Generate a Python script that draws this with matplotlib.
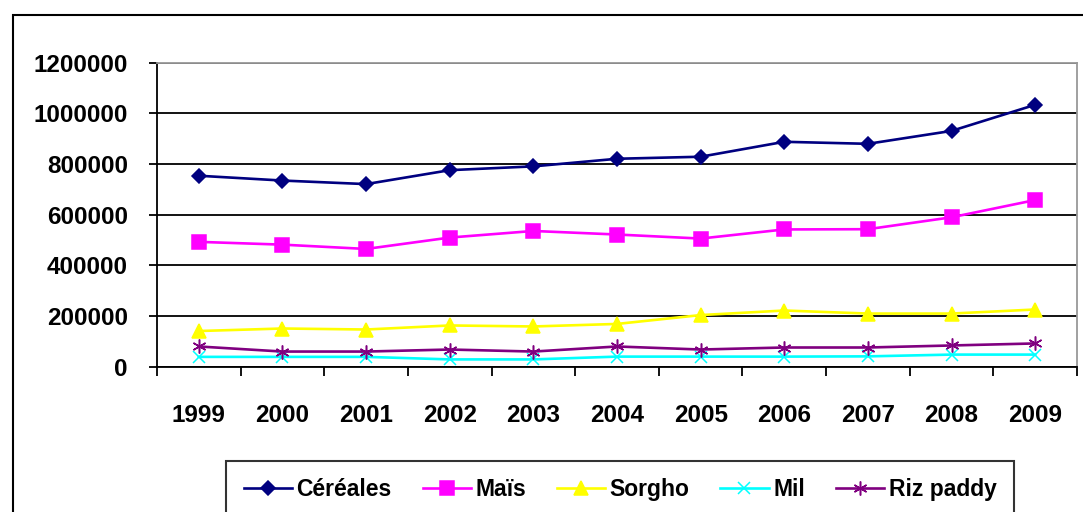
import matplotlib
import matplotlib.pyplot as plt
from matplotlib.patches import Rectangle

matplotlib.use("Agg")

plt.rcParams["font.family"] = ["Liberation Sans", "DejaVu Sans"]

years = ["1999", "2000", "2001", "2002", "2003", "2004", "2005", "2006", "2007", "2008", "2009"]
cereales = [753000, 734000, 720000, 775000, 790000, 820000, 828000, 887000, 879000, 930000, 1033000]
mais = [492000, 481000, 464000, 509000, 535000, 521000, 505000, 541000, 542000, 589000, 657000]
sorgho = [140000, 150000, 146000, 162000, 158000, 168000, 203000, 221000, 209000, 209000, 225000]
mil = [38000, 38000, 38000, 28000, 28000, 39000, 39000, 39000, 40000, 47000, 47000]
riz = [79000, 59000, 59000, 67000, 59000, 79000, 67000, 75000, 75000, 83000, 91000]

series = [
    ("Céréales", cereales, "#000080", "D", 7),
    ("Maïs", mais, "#FF00FF", "s", 10),
    ("Sorgho", sorgho, "#FFFF00", "^", 10),
    ("Mil", mil, "#00FFFF", "x", 8),
    ("Riz paddy", riz, "#800080", (6, 2, 0), 10),
]

fig = plt.figure(figsize=(10.83, 5.12), dpi=100)
ax = fig.add_axes([157 / 1083, 1 - 366.5 / 512, (1077 - 157) / 1083, (366.5 - 62.5) / 512])

x = list(range(len(years)))
for name, vals, color, marker, ms in series:
    ax.plot(x, vals, color=color, lw=1.9, marker=marker, markersize=ms,
            markeredgewidth=1.1, label=name, zorder=3)

ax.set_xlim(-0.5, len(years) - 0.5)
ax.set_ylim(0, 1200000)
ax.set_yticks(range(0, 1200001, 200000))
ax.set_yticklabels([str(v) for v in range(0, 1200001, 200000)])
ax.yaxis.grid(True, color="black", lw=1.3)
ax.set_axisbelow(True)

ax.set_xticks(x)
ax.set_xticklabels(years)
ax.set_xticks([i - 0.5 for i in range(len(years) + 1)], minor=True)
ax.tick_params(axis="x", which="major", length=0, pad=27, labelsize=17.5)
ax.tick_params(axis="x", which="minor", length=6.5, width=1.3, direction="out")
ax.tick_params(axis="y", length=6, width=1.3, direction="out", pad=15, labelsize=17.5)
for lab in ax.get_xticklabels() + ax.get_yticklabels():
    lab.set_fontweight("bold")

ax.spines["left"].set_linewidth(1.3)
ax.spines["bottom"].set_linewidth(1.3)
ax.spines["top"].set_color("#999999")
ax.spines["right"].set_color("#999999")
ax.spines["top"].set_linewidth(1.3)
ax.spines["right"].set_linewidth(1.3)

leg = fig.legend(loc="upper center", bbox_to_anchor=(620 / 1083, 1 - 461 / 512),
                 ncol=5, frameon=True, fancybox=False, edgecolor="black",
                 prop={"size": 16.5, "weight": "bold"}, handlelength=2.1,
                 handletextpad=0.2, columnspacing=1.35, borderpad=0.75,
                 borderaxespad=0)
leg.get_frame().set_linewidth(1.5)

fig.add_artist(Rectangle((13 / 1083, -0.1), 1.2, (512 - 15) / 512 + 0.1,
                         transform=fig.transFigure, fill=False, lw=1.5,
                         edgecolor="black", clip_on=False))

fig.savefig("out.png", dpi=100)
